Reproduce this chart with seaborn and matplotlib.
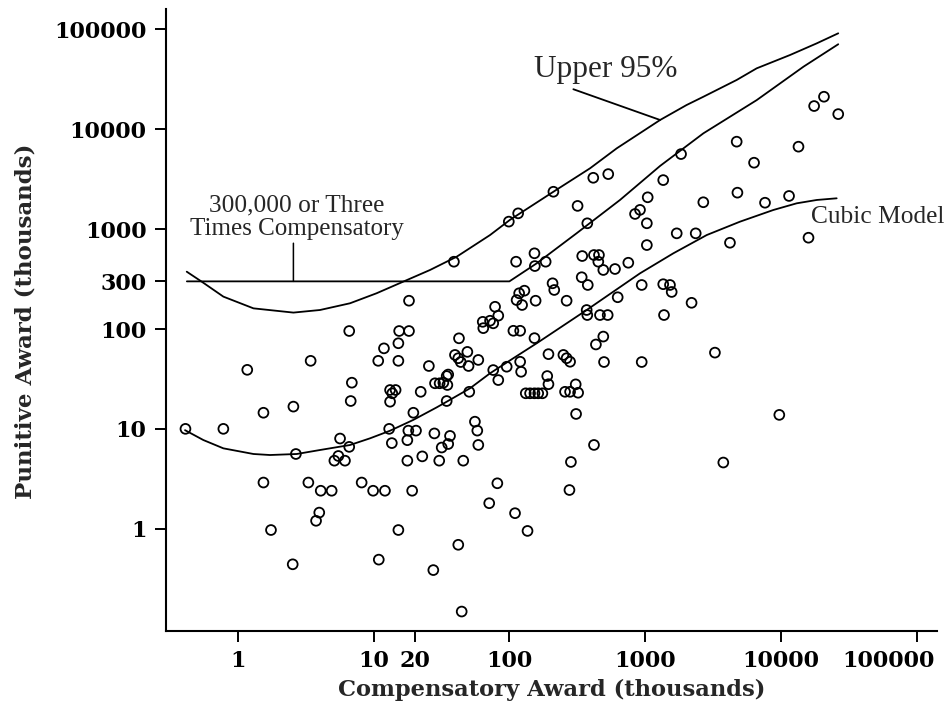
import matplotlib
matplotlib.use("Agg")
import matplotlib.pyplot as plt
import matplotlib.ticker as mticker
import matplotlib.transforms as mtransforms
import numpy as np
import pandas as pd
import seaborn as sns

# ---- data (thousands of dollars) ----
comp_award = [
    0.41, 0.78, 1.17, 3.43, 1.54, 2.56, 2.67, 5.65, 6.6, 5.13, 5.49, 6.14, 6.9, 6.77,
    11.9, 10.8, 15.2, 15.2, 13.2, 14.5, 13.7, 13.2, 13.0, 13.6, 18.0, 20.5, 17.7, 17.7, 19.6, 22.2, 22.8, 25.5, 28.0, 30.4, 45.7,
    28.3, 30.6, 32.6, 34.5, 35.4, 34.9, 34.5, 50.6, 55.7, 58, 59, 36.5, 35.4, 31.7, 39.7, 42, 43.8, 49, 50, 59, 42.5,
    39, 18.2, 6.6, 15.4, 18.2,
    1.54, 1.75, 2.53, 3.3, 4.07, 4.9, 3.97, 3.76, 8.15, 9.9, 12.1, 19.2, 15.2, 10.9, 27.5, 42, 44.5,
    3270, 9750, 3770, 944, 498, 434, 420, 284, 277, 310, 81.5, 71, 110, 136,
    76, 82.8, 95.5, 120, 122, 194, 190, 194, 132, 142, 153, 163, 175, 257, 280, 321, 308, 250, 264, 280,
    318, 99, 116, 375, 843, 917, 1030, 1030, 153, 112, 154, 185, 344, 420, 457, 452, 492, 600, 752, 341, 378, 208, 214, 264, 156, 118, 129, 113, 124, 944, 628,
    63.6, 64.2, 72, 76, 78.4, 82.8, 107, 120, 153, 371, 375, 465, 530, 492,
    211, 415, 535, 1360, 1045, 1840, 2685, 1710, 2360, 4730, 6350, 4790, 4220, 7650, 11500, 13500, 16000, 17600, 20800, 26500, 1360, 1525, 1570, 2200, 1378,
]
punitive_award = [
    10, 10, 39, 48, 14.5, 16.7, 5.6, 8.0, 6.6, 4.8, 5.35, 4.8, 29, 19,
    64, 48, 72, 48, 24.5, 24.5, 22.7, 18.7, 10, 7.2, 9.6, 9.6, 7.7, 4.8, 14.5, 23.5, 5.3, 42.6, 9.0, 4.8, 4.8,
    28.6, 28.6, 29, 33.8, 35, 27.5, 19, 23.5, 11.8, 9.6, 6.9, 8.5, 7.05, 6.5, 55, 51, 46.7, 59, 42.6, 49, 80.7,
    472, 192, 95.5, 95.5, 95.5,
    2.9, 0.97, 0.44, 2.9, 2.4, 2.4, 1.45, 1.2, 2.9, 2.4, 2.4, 2.4, 0.97, 0.49, 0.385, 0.69, 0.148,
    58, 13.8, 4.6, 46.7, 46.7, 70, 6.9, 4.66, 2.44, 14.1, 2.85, 1.8, 1.43, 0.95,
    38.8, 30.8, 41.9, 47, 37.3, 56, 33.8, 28, 22.7, 22.7, 22.7, 22.7, 22.7, 23.5, 23.5, 23, 27.9, 55, 51, 47,
    1710, 1190, 1440, 1145, 1420, 1560, 1145, 693, 573, 472, 427, 472, 538, 551, 551, 472, 390, 399, 461, 330, 276, 287, 246, 192, 192, 228, 242, 195, 174, 276, 208,
    118, 102, 121, 114, 167, 136, 96, 96, 81, 155, 138, 138, 138, 84,
    2370, 3270, 3560, 3100, 2085, 5650, 1860, 908, 908, 7520, 4630, 2320, 731, 1840, 2150, 6700, 821, 17100, 21200, 14200, 281, 276, 235, 183, 138,
]

# curves
cubic_x = [0.407, 0.555, 0.78, 1.30, 1.72, 2.71, 4.02, 6.69, 9.4, 13.2, 19.6, 29.1, 34.5, 51.3, 72,
           107, 159, 371, 917, 1615, 2845, 5000, 8810, 13100, 18400, 25800]
cubic_y = [9.7, 7.73, 6.38, 5.6, 5.47, 5.6, 6.14, 6.89, 8.04, 9.58, 12.3, 16.4, 18.7, 25.5, 36,
           51, 72, 155, 361, 573, 873, 1188, 1556, 1815, 1960, 2037]

upper_x = [0.419, 0.54, 0.78, 1.30, 2.56, 4.02, 6.69, 10.5, 16.5, 26, 40.9, 72, 101, 211, 393, 618,
           1290, 2020, 2690, 4730, 6640, 11700, 18400, 26500]
upper_y = [375, 298, 211, 161, 146, 155, 181, 228, 298, 390, 530, 873, 1240, 2370, 4070, 6450,
           12400, 17500, 21200, 31200, 40800, 55500, 72600, 91500]

limit_x = [0.42, 100, 159, 313, 653, 1290, 2690, 6640, 14700, 26500]
limit_y = [300, 300, 455, 910, 1960, 4300, 9120, 19600, 42400, 71100]

x_ticks = [1, 10, 20, 100, 1000, 10000, 100000]
y_ticks = [1, 10, 100, 300, 1000, 10000, 100000]

points = pd.DataFrame({"comp": comp_award, "pun": punitive_award})
curves = pd.concat([
    pd.DataFrame({"x": cubic_x, "y": cubic_y, "curve": "cubic"}),
    pd.DataFrame({"x": upper_x, "y": upper_y, "curve": "upper"}),
    pd.DataFrame({"x": limit_x, "y": limit_y, "curve": "limit"}),
])

sns.set_style("ticks")
plt.rcParams["font.family"] = ["DejaVu Serif"]

fig = plt.figure(figsize=(9.46, 7.05), dpi=100)
ax = fig.add_axes([166 / 946, 1 - 631 / 705, (937 - 166) / 946, (631 - 9) / 705])
ax.set_xscale("log")
ax.set_yscale("log")

sns.lineplot(data=curves, x="x", y="y", units="curve", estimator=None, sort=False,
             color="black", linewidth=1.3, ax=ax)
sns.scatterplot(data=points, x="comp", y="pun", ax=ax, s=50, marker="o",
                facecolor="none", edgecolor="black", linewidth=1.3, zorder=3)

ax.set_xlim(0.2947, 141600)
ax.set_ylim(0.0945, 160300)
ax.xaxis.set_major_locator(mticker.FixedLocator(x_ticks))
ax.yaxis.set_major_locator(mticker.FixedLocator(y_ticks))
ax.xaxis.set_minor_locator(mticker.NullLocator())
ax.yaxis.set_minor_locator(mticker.NullLocator())
ax.set_xticklabels([str(v) for v in x_ticks])
ax.set_yticklabels([str(v) for v in y_ticks])
ax.tick_params(axis="both", which="major", direction="out", length=8, width=1.4,
               color="black", labelsize=16, labelcolor="black", pad=6)
for lab in ax.get_xticklabels() + ax.get_yticklabels():
    lab.set_fontweight("bold")
# last x label sits shifted left so it stays inside the figure
last = ax.get_xticklabels()[-1]
last.set_transform(last.get_transform() + mtransforms.ScaledTranslation(-0.28, 0, fig.dpi_scale_trans))

for side in ["top", "right"]:
    ax.spines[side].set_visible(False)
for side in ["left", "bottom"]:
    ax.spines[side].set_linewidth(1.5)
    ax.spines[side].set_color("black")

ax.set_xlabel("Compensatory Award (thousands)", fontsize=16.3, fontweight="bold", labelpad=5)
ax.set_ylabel("Punitive Award (thousands)", fontsize=16.5, fontweight="bold")
ax.yaxis.set_label_coords(-0.1686, 0.4986)

serif = ["Liberation Serif", "DejaVu Serif"]
ax.text(2.71, 1496, "300,000 or Three", family=serif, fontsize=18.3, ha="center", va="baseline")
ax.text(2.71, 874, "Times Compensatory", family=serif, fontsize=18, ha="center", va="baseline")
ax.annotate("", xy=(2.56, 300), xytext=(2.56, 723),
            arrowprops=dict(arrowstyle="-", color="black", lw=1.1, shrinkA=0, shrinkB=0))

ax.text(513, 33200, "Upper 95%", family=serif, fontsize=22.5, ha="center", va="baseline")
ax.annotate("", xy=(1290, 12400), xytext=(296, 25200),
            arrowprops=dict(arrowstyle="-", color="black", lw=1.3, shrinkA=0, shrinkB=0))

ax.text(16600, 1145, "Cubic Model", family=serif, fontsize=18.3, ha="left", va="baseline",
        clip_on=False)

if ax.get_legend() is not None:
    ax.get_legend().remove()

fig.savefig("out.png", dpi=100)
